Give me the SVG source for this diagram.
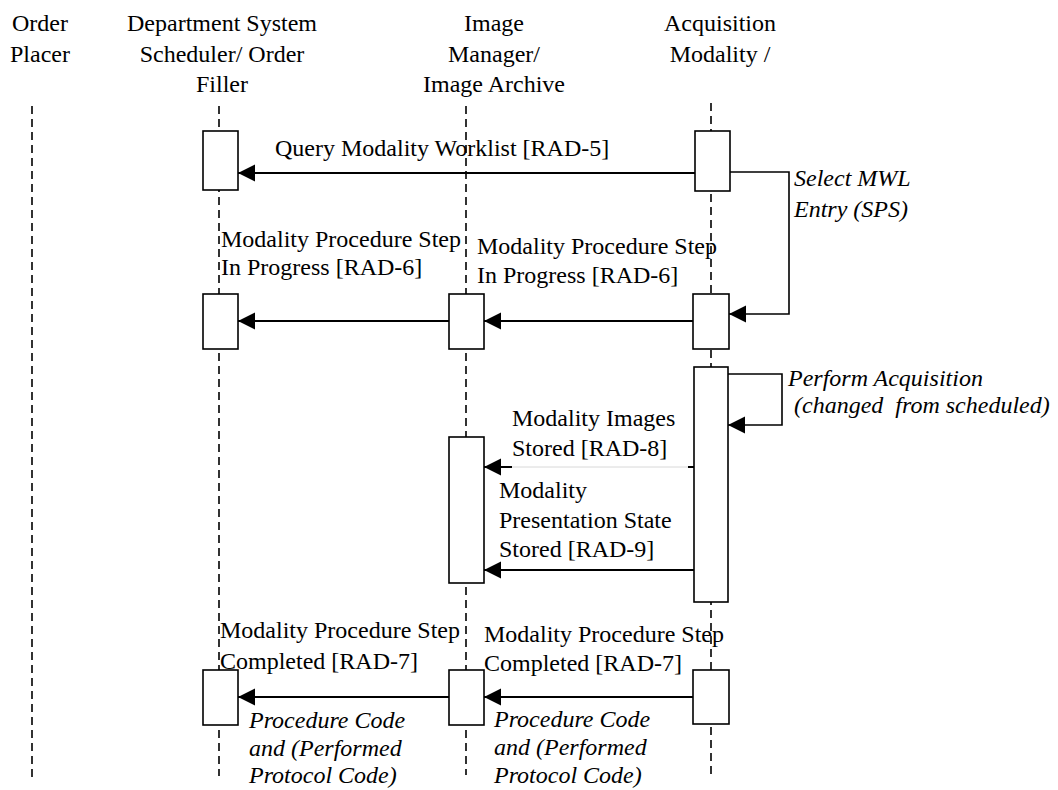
<svg xmlns="http://www.w3.org/2000/svg" width="1058" height="790" viewBox="0 0 1058 790">
<style>
text { font-size: 24px; fill: #000; }
.it { font-style: italic; }
.hd { text-anchor: middle; }
.life { stroke: #000; stroke-width: 1.6; stroke-dasharray: 8 5; fill: none; }
.act { fill: #fff; stroke: #000; stroke-width: 1.6; }
.msg { stroke: #000; stroke-width: 2; fill: none; marker-end: url(#ah); }
.loop { stroke: #000; stroke-width: 1.6; fill: none; marker-end: url(#ah); }
.faint { stroke: #d8d8d8; stroke-width: 1; fill: none; }
.stub { stroke: #000; stroke-width: 2; fill: none; }
</style>
<defs>
<marker id="ah" markerUnits="userSpaceOnUse" markerWidth="18" markerHeight="18" refX="17" refY="8.5" orient="auto">
<path d="M0,0 L17,8.5 L0,17 Z" fill="#000"/>
</marker>
</defs>
<rect width="1058" height="790" fill="#fff"/>

<g font-family="Liberation Serif, Tinos, DejaVu Serif, serif">
<g id="order-placer">
<text class="hd" x="40" y="31">Order</text>
<text class="hd" x="40" y="62">Placer</text>
<line class="life" x1="32" y1="106" x2="32" y2="778"/>
</g>
<g id="department-system">
<text class="hd" x="222" y="31">Department System</text>
<text class="hd" x="222" y="62">Scheduler/ Order</text>
<text class="hd" x="222" y="92">Filler</text>
<line class="life" x1="219" y1="106" x2="219" y2="776"/>
</g>
<g id="image-manager">
<text class="hd" x="494" y="31">Image</text>
<text class="hd" x="494" y="62">Manager/</text>
<text class="hd" x="494" y="92">Image Archive</text>
<line class="life" x1="466" y1="106" x2="466" y2="775"/>
</g>
<g id="acquisition-modality">
<text class="hd" x="720" y="31">Acquisition</text>
<text class="hd" x="720" y="62">Modality /</text>
<line class="life" x1="711" y1="103" x2="711" y2="775"/>
</g>

<g id="activations">
<rect class="act" x="203" y="131" width="35" height="59"/>
<rect class="act" x="203" y="294" width="35" height="55"/>
<rect class="act" x="203" y="670" width="35" height="55"/>
<rect class="act" x="449" y="294" width="35" height="55"/>
<rect class="act" x="449" y="437" width="35" height="146"/>
<rect class="act" x="449" y="670" width="35" height="55"/>
<rect class="act" x="695" y="131" width="35" height="60"/>
<rect class="act" x="693" y="294" width="36" height="55"/>
<rect class="act" x="694" y="367" width="34" height="235"/>
<rect class="act" x="693" y="670" width="36" height="54"/>
</g>

<g id="connectors">
<path class="msg" d="M695,173 H238"/>
<path class="loop" d="M730,172 H789 V314 H729"/>
<path class="msg" d="M449,321 H238"/>
<path class="msg" d="M693,321 H484"/>
<path class="loop" d="M728,374 H782 V425 H728"/>
<line class="faint" x1="512" y1="467" x2="688" y2="467"/>
<line class="stub" x1="688" y1="467" x2="694" y2="467"/>
<path class="msg" d="M512,467 H484"/>
<path class="msg" d="M694,570 H484"/>
<path class="msg" d="M449,697 H238"/>
<path class="msg" d="M693,697 H484"/>
</g>

<g id="labels">
<text x="275" y="156">Query Modality Worklist [RAD-5]</text>
<text class="it" x="794" y="186">Select MWL</text>
<text class="it" x="794" y="217">Entry (SPS)</text>
<text x="221" y="247">Modality Procedure Step</text>
<text x="221" y="275">In Progress [RAD-6]</text>
<text x="477" y="254">Modality Procedure Step</text>
<text x="477" y="283">In Progress [RAD-6]</text>
<text class="it" x="788" y="386">Perform Acquisition</text>
<text class="it" x="788" y="413" xml:space="preserve"> (changed  from scheduled)</text>
<text x="512" y="426">Modality Images</text>
<text x="512" y="456">Stored [RAD-8]</text>
<text x="499" y="498">Modality</text>
<text x="499" y="528">Presentation State</text>
<text x="499" y="557">Stored [RAD-9]</text>
<text x="220" y="638">Modality Procedure Step</text>
<text x="220" y="669">Completed [RAD-7]</text>
<text x="484" y="642">Modality Procedure Step</text>
<text x="484" y="671">Completed [RAD-7]</text>
<text class="it" x="249" y="728">Procedure Code</text>
<text class="it" x="249" y="756">and (Performed</text>
<text class="it" x="249" y="783">Protocol Code)</text>
<text class="it" x="494" y="727">Procedure Code</text>
<text class="it" x="494" y="755">and (Performed</text>
<text class="it" x="494" y="783">Protocol Code)</text>
</g>
</g>
</svg>
